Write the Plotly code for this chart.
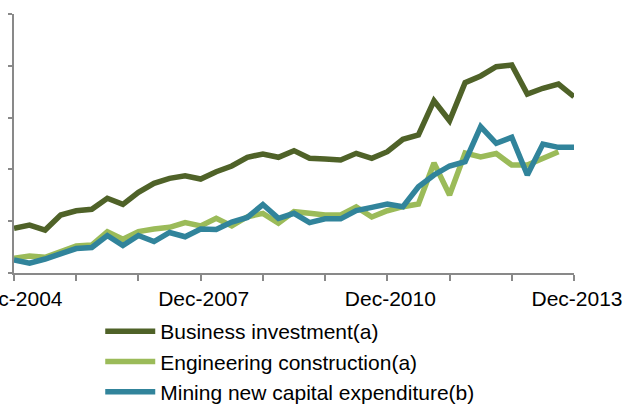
import plotly.graph_objects as go

# quarterly, Dec-2004 .. Dec-2013
months = ['Mar', 'Jun', 'Sep', 'Dec']
quarters = ['Dec-2004'] + [f'{m}-{y}' for y in range(2005, 2014) for m in months]

business = [43.1, 46.3, 41.5, 56.0, 60.1, 61.5, 72.1, 66.3, 77.9, 86.6, 91.4, 93.9,
            90.7, 97.8, 103.3, 111.7, 114.9, 111.7, 118.1, 110.7, 110.0, 109.1, 115.5, 110.7,
            117.1, 129.1, 133.2, 166.3, 147.0, 183.7, 190.2, 199.1, 200.8, 172.8, 178.3, 182.4,
            170.2]
engineering = [14.2, 16.4, 15.2, 20.6, 26.1, 27.0, 39.9, 32.5, 39.9, 42.5, 44.1, 48.6,
               45.4, 52.8, 45.4, 54.3, 57.6, 48.0, 59.2, 57.6, 56.0, 56.0, 63.7, 54.1,
               60.1, 64.0, 66.6, 106.2, 75.3, 115.8, 112.0, 115.3, 104.2, 104.2, 110.7, 117.1,
               None]
mining = [12.5, 9.4, 13.5, 17.9, 23.6, 24.6, 36.2, 26.5, 36.2, 30.4, 39.1, 35.0,
          42.5, 42.0, 49.2, 53.6, 66.1, 52.8, 57.6, 48.6, 52.3, 52.3, 60.3, 63.4,
          66.6, 64.0, 83.3, 94.6, 103.3, 107.4, 141.2, 125.2, 131.0, 94.6, 124.5, 121.3,
          121.3]

tick_labels = ['Dec-2004', '', '', 'Dec-2007', '', '', 'Dec-2010', '', '', 'Dec-2013']

fig = go.Figure()
fig.add_trace(go.Scatter(x=quarters, y=business, mode='lines',
                         name='Business investment(a)',
                         line=dict(color='#4f6228', width=5.5)))
fig.add_trace(go.Scatter(x=quarters, y=engineering, mode='lines',
                         name='Engineering construction(a)',
                         line=dict(color='#9bbb59', width=5.5)))
fig.add_trace(go.Scatter(x=quarters, y=mining, mode='lines',
                         name='Mining new capital expenditure(b)',
                         line=dict(color='#31849b', width=5.5)))

fig.update_layout(
    width=624, height=405,
    margin=dict(l=14, r=50, t=14, b=132, autoexpand=False),
    paper_bgcolor='white', plot_bgcolor='white',
    font=dict(family='Liberation Sans, Arial', size=21, color='#000000'),
    xaxis=dict(
        type='category', range=[0, 36], automargin=False,
        tickvals=quarters[::4], ticktext=tick_labels, ticklabelshift=3,
        showline=True, linecolor='#898989', linewidth=2,
        ticks='outside', ticklen=6, tickwidth=2, tickcolor='#898989',
        showgrid=False, zeroline=False,
    ),
    yaxis=dict(
        range=[0, 250], dtick=50, showticklabels=False, automargin=False,
        showline=True, linecolor='#898989', linewidth=2,
        ticks='outside', ticklen=4, tickwidth=2, tickcolor='#898989',
        showgrid=False, zeroline=False,
    ),
    legend=dict(x=0.154, y=-0.147, xanchor='left', yanchor='top',
                itemwidth=50, bgcolor='rgba(0,0,0,0)'),
)

# the page body has a default 8px margin, drop it so the figure sits at 0,0
fig.write_html("out.html", config={'displayModeBar': False},
               post_script="document.body.style.margin='0';")
